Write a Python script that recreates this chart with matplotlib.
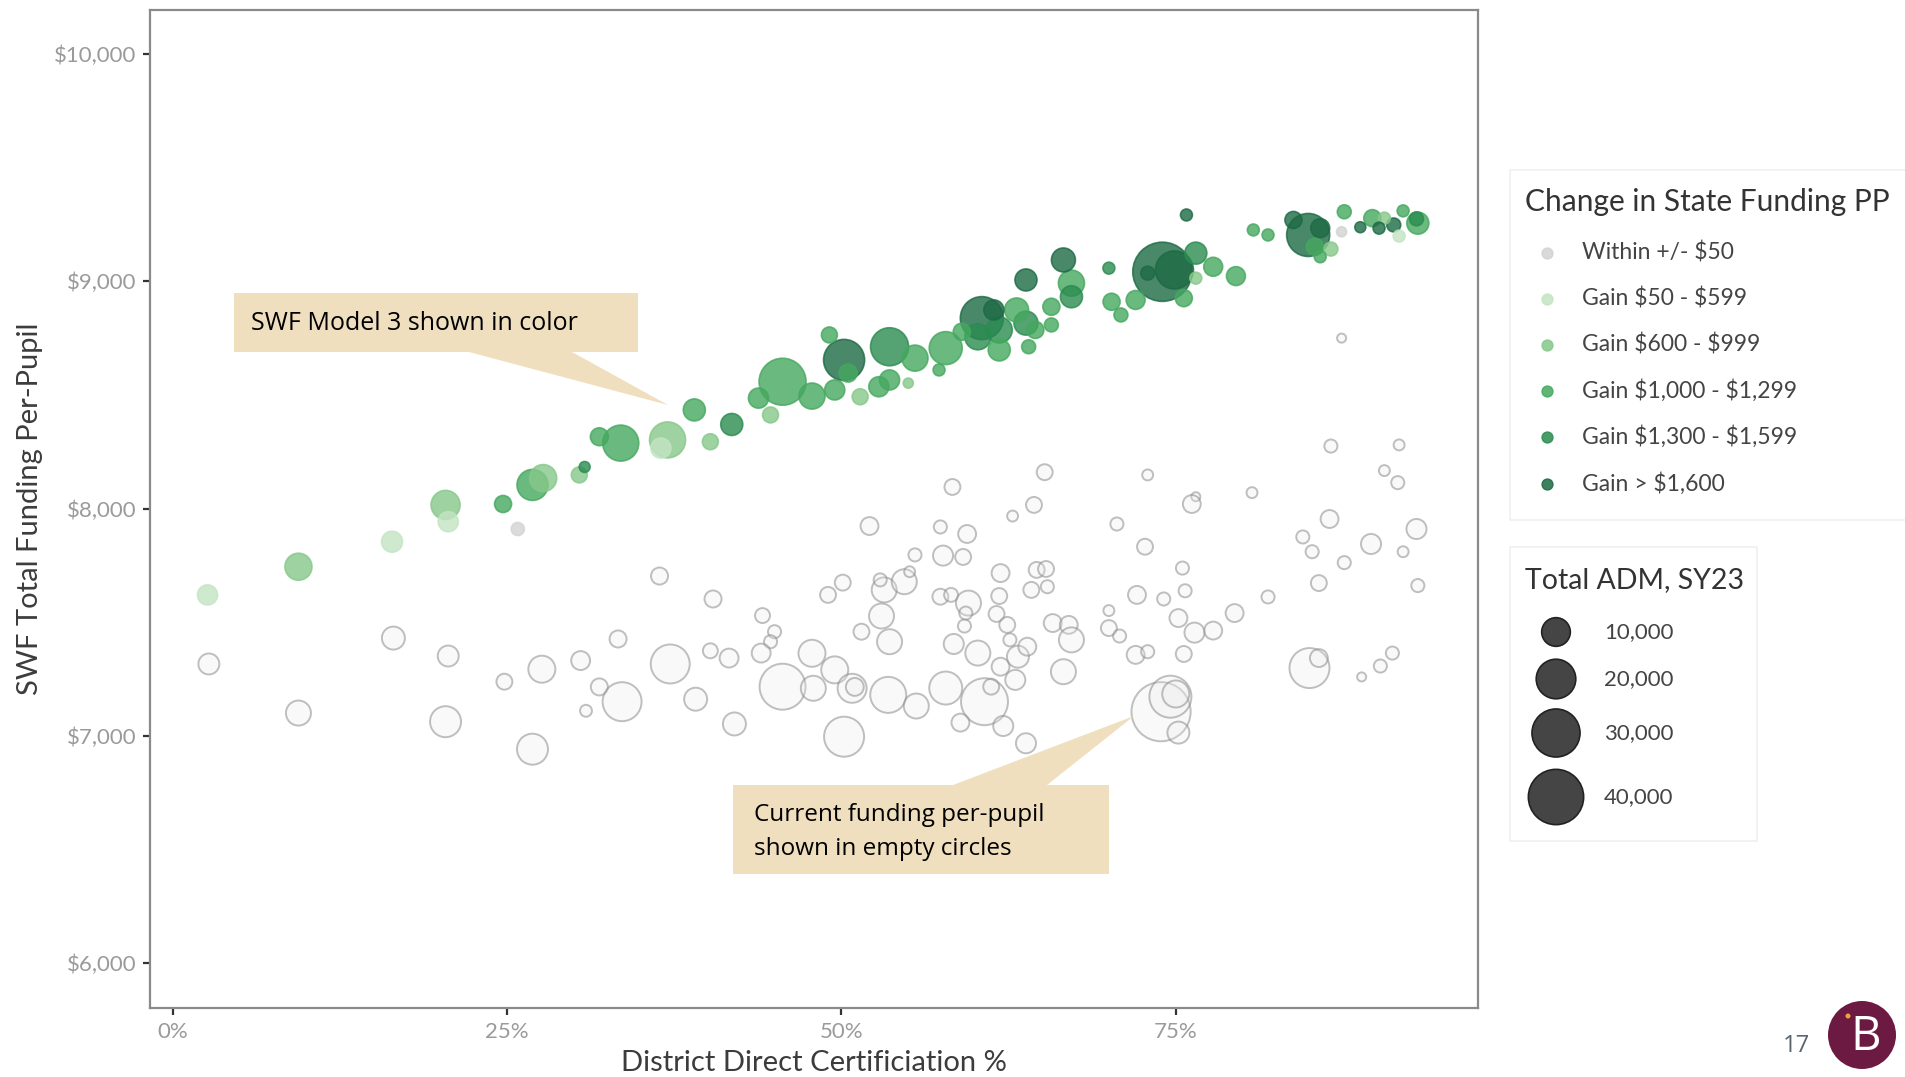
import matplotlib
matplotlib.use("Agg")
import matplotlib.pyplot as plt
from matplotlib.patches import Polygon, Rectangle, Circle
from matplotlib.ticker import FuncFormatter, FixedLocator
import numpy as np

plt.rcParams["font.family"] = ["Lato", "DejaVu Sans"]

# ---------------------------------------------------------------- data
band_labels = ["Within +/- $50", "Gain $50 - $599", "Gain $600 - $999",
               "Gain $1,000 - $1,299", "Gain $1,300 - $1,599", "Gain > $1,600"]
band_colors = ["#d3d3d3", "#c4e4c4", "#86c88a", "#45a85f", "#2a8c50", "#1d6a45"]

# SWF Model 3 per-pupil funding (coloured by change in state funding)
model_pct = [2.6, 9.4, 16.4, 20.6, 20.4, 25.8, 24.7, 26.9, 27.7, 30.4,
             30.8, 31.9, 33.5, 37.0, 36.5, 39.0, 40.2, 41.8, 44.7, 43.8,
             45.6, 47.8, 49.1, 50.2, 49.5, 50.5, 51.4, 52.8, 53.6, 53.6,
             55.0, 55.5, 57.3, 57.8, 59.0, 60.5, 61.4, 60.2, 61.8, 61.8,
             63.1, 63.8, 64.0, 64.5, 65.7, 65.7, 63.8, 66.6, 67.2, 67.2,
             70.0, 70.2, 70.9, 72.0, 74.0, 74.9, 72.9, 75.6, 76.5, 76.5,
             75.8, 77.8, 79.5, 80.8, 81.9, 83.8, 84.9, 85.8, 85.4, 86.6,
             85.8, 87.6, 87.4, 88.8, 89.7, 90.2, 90.6, 91.3, 92.0, 91.7,
             93.1, 93.0]
model_value = [7620, 7744, 7854, 7942, 8016, 7910, 8020, 8104, 8134, 8148,
               8183, 8316, 8288, 8302, 8266, 8434, 8294, 8370, 8412, 8486,
               8558, 8495, 8764, 8654, 8522, 8596, 8492, 8536, 8712, 8566,
               8552, 8662, 8610, 8706, 8778, 8838, 8874, 8756, 8786, 8698,
               8874, 8816, 8712, 8786, 8888, 8808, 9006, 9094, 8992, 8932,
               9058, 8910, 8852, 8918, 9042, 9050, 9036, 8926, 9124, 9014,
               9292, 9064, 9023, 9226, 9204, 9270, 9204, 9234, 9152, 9142,
               9108, 9306, 9218, 9238, 9278, 9234, 9278, 9248, 9310, 9199,
               9256, 9275]
model_adm = [4400, 8800, 4900, 4400, 10300, 1300, 2900, 11900, 8800, 2400,
             600, 3300, 16400, 16400, 4400, 5500, 2400, 5500, 2400, 4400,
             28600, 8100, 2400, 21600, 4400, 3300, 2400, 4400, 18400, 4400,
             350, 8100, 900, 13600, 2900, 23800, 4400, 8100, 8100, 5500,
             6700, 6700, 1600, 2900, 2900, 1600, 5500, 6700, 8100, 5500,
             900, 2900, 1600, 3800, 46000, 18400, 1600, 2900, 5500, 900,
             900, 3800, 3800, 900, 900, 2900, 23800, 3800, 2900, 1600,
             900, 1600, 350, 600, 2900, 900, 900, 1600, 900, 900,
             5500, 1600]
model_band = [1, 2, 1, 1, 2, 0, 3, 3, 2, 2,
              4, 3, 3, 2, 1, 3, 2, 4, 2, 3,
              3, 3, 3, 5, 3, 3, 2, 3, 4, 3,
              2, 3, 3, 3, 3, 5, 5, 4, 4, 3,
              3, 4, 3, 3, 3, 3, 5, 5, 3, 4,
              4, 3, 3, 3, 5, 5, 5, 3, 4, 2,
              5, 3, 3, 3, 3, 5, 5, 5, 3, 2,
              3, 3, 0, 5, 3, 5, 2, 5, 3, 1,
              3, 4]

# Current per-pupil funding (empty circles)
current_pct = [2.7, 9.4, 16.5, 20.6, 20.4, 24.8, 27.6, 26.9, 30.5, 31.9,
               30.9, 33.6, 33.3, 36.4, 37.2, 39.1, 40.2, 41.6, 42.0, 40.4,
               44.1, 45.0, 44.7, 44.0, 45.6, 47.8, 47.9, 49.5, 50.2, 49.0,
               50.1, 51.5, 52.1, 50.8, 51.0, 53.2, 52.9, 54.7, 55.1, 53.0,
               53.5, 53.6, 55.5, 55.6, 57.4, 57.6, 59.1, 59.4, 58.3, 57.4,
               58.2, 59.5, 59.3, 59.2, 58.4, 57.8, 60.2, 60.7, 58.9, 62.1,
               63.8, 61.9, 61.8, 61.6, 62.4, 62.6, 61.9, 61.2, 63.0, 63.2,
               63.9, 62.8, 64.4, 65.2, 64.2, 64.6, 65.3, 65.4, 65.8, 67.0,
               67.2, 66.6, 70.0, 70.0, 70.8, 70.6, 72.7, 72.9, 72.1, 72.0,
               72.9, 74.1, 75.5, 75.7, 75.2, 76.4, 77.8, 75.6, 73.9, 74.6,
               75.0, 75.2, 76.5, 76.2, 79.4, 80.7, 81.9, 85.0, 85.7, 84.5,
               85.2, 86.5, 86.6, 85.7, 87.6, 89.6, 90.6, 91.6, 91.7, 92.0,
               93.0, 93.1, 88.9, 90.3, 91.2, 87.4]
current_value = [7316, 7100, 7430, 7351, 7062, 7238, 7293, 6941, 7331, 7215,
                 7110, 7150, 7426, 7703, 7316, 7161, 7374, 7342, 7052, 7602,
                 7529, 7458, 7414, 7364, 7216, 7363, 7209, 7290, 6996, 7620,
                 7674, 7458, 7923, 7209, 7215, 7642, 7686, 7678, 7722, 7527,
                 7180, 7414, 7796, 7131, 7919, 7793, 7787, 7888, 8095, 7612,
                 7620, 7584, 7540, 7483, 7404, 7210, 7364, 7150, 7058, 7043,
                 6967, 7716, 7615, 7536, 7488, 7422, 7304, 7216, 7246, 7348,
                 7392, 7967, 8016, 8160, 7642, 7730, 7734, 7656, 7496, 7488,
                 7422, 7282, 7551, 7474, 7439, 7932, 7832, 8148, 7620, 7356,
                 7370, 7602, 7738, 7638, 7518, 7454, 7463, 7360, 7106, 7172,
                 7184, 7014, 8052, 8020, 7540, 8070, 7611, 7298, 7342, 7875,
                 7810, 7954, 8275, 7672, 7762, 7844, 8167, 8114, 8280, 7810,
                 7910, 7661, 7259, 7307, 7364, 8750]
current_adm = [4900, 7400, 6100, 4900, 11900, 2400, 8800, 11900, 3800, 2900,
               900, 19400, 2900, 2900, 19400, 6100, 2000, 3800, 6100, 2900,
               2000, 1300, 1300, 3800, 27400, 8800, 7400, 8800, 20500, 2400,
               2400, 2400, 3300, 10300, 3300, 7400, 1300, 7400, 600, 7400,
               16400, 7400, 1300, 7400, 1300, 4400, 2400, 3300, 2400, 2400,
               1600, 7400, 1300, 1300, 4400, 13600, 7400, 28600, 3300, 4400,
               4400, 3300, 2400, 2400, 2400, 1300, 3300, 2400, 4400, 5500,
               3300, 600, 2400, 2400, 2400, 2400, 2400, 1300, 3300, 3300,
               7400, 7400, 600, 2400, 1300, 1300, 2400, 600, 3300, 3300,
               1300, 1300, 1300, 1300, 3300, 4400, 3300, 2400, 46000, 22700,
               8800, 5500, 100, 3300, 3300, 600, 1300, 20500, 3300, 1300,
               1300, 3300, 1300, 2400, 1300, 4400, 600, 1300, 600, 600,
               4400, 1300, 100, 1300, 1300, 100]

y_ticks = [6000, 7000, 8000, 9000, 10000]
x_ticks = [0, 25, 50, 75]
adm_keys = [10000, 20000, 30000, 40000]


def marker_area(adm):
    """Marker area (pt^2) for a district enrolment; area grows with ADM."""
    d_px = np.sqrt(75 + 0.0745 * np.asarray(adm, dtype=float))
    return (d_px * 0.72) ** 2


# ---------------------------------------------------------------- figure
W, H = 1905, 1077
fig = plt.figure(figsize=(W / 100, H / 100), dpi=100)
fig.patch.set_facecolor("white")


def fig_box(l, t, r, b):
    return [l / W, 1 - b / H, (r - l) / W, (b - t) / H]


ax = fig.add_axes(fig_box(150, 10, 1478, 1008))
ax.set_xlim(-1.7, 97.6)
ax.set_ylim(5802, 10194)

# current funding: empty circles
ax.scatter(current_pct, current_value, s=marker_area(current_adm),
           facecolors=(0.92, 0.92, 0.92, 0.25), edgecolors=(0.55, 0.55, 0.55, 0.55),
           linewidths=1.4, zorder=2)

# model funding: filled circles coloured by band, large ones underneath
order = np.argsort(-np.asarray(model_adm))
mp = np.asarray(model_pct)[order]
mv = np.asarray(model_value)[order]
ma = np.asarray(model_adm)[order]
mb = np.asarray(model_band)[order]
cols = [band_colors[b] for b in mb]
ax.scatter(mp, mv, s=marker_area(ma), c=cols, alpha=0.8,
           edgecolors=cols, linewidths=1.2, zorder=3)

ax.yaxis.set_major_locator(FixedLocator(y_ticks))
ax.xaxis.set_major_locator(FixedLocator(x_ticks))
ax.yaxis.set_major_formatter(FuncFormatter(lambda v, p: f"${v:,.0f}"))
ax.xaxis.set_major_formatter(FuncFormatter(lambda v, p: f"{v:.0f}%"))
ax.tick_params(axis="both", length=5, width=1.6, color="#333333",
               labelcolor="#9a9a9a", labelsize=16, pad=5)
for side in ax.spines.values():
    side.set_color("#8a8a8a")
    side.set_linewidth(1.6)

ax.set_xlabel("District Direct Certificiation %", fontsize=21, color="#3c3c3c",
              labelpad=6)
ax.set_ylabel("SWF Total Funding Per-Pupil", fontsize=21, color="#3c3c3c",
              labelpad=8)

# ---------------------------------------------------------------- overlay (pixel coords)
ov = fig.add_axes([0, 0, 1, 1])
ov.set_xlim(0, W)
ov.set_ylim(H, 0)
ov.axis("off")
ov.set_zorder(10)

# legend boxes
ov.add_patch(Rectangle((1510, 170), 400, 350, facecolor="white",
                       edgecolor="#f0f0f0", lw=1.2))
ov.add_patch(Rectangle((1510, 547), 247, 294, facecolor="white",
                       edgecolor="#f0f0f0", lw=1.2))

# colour legend
ov.text(1525, 202, "Change in State Funding PP", fontsize=21.5, color="#333333",
        va="center", ha="left")
leg_y = [253, 299, 345, 391, 437, 484]
for y, lab, col in zip(leg_y, band_labels, band_colors):
    ov.scatter([1547], [y], s=marker_area(600), color=col, alpha=0.85,
               edgecolors=col, linewidths=1)
    ov.text(1582, y, lab, fontsize=16.5, color="#444444", va="center",
            ha="left", parse_math=False)

# size legend
ov.text(1525, 580, "Total ADM, SY23", fontsize=20.5, color="#333333",
        va="center", ha="left")
size_y = [632, 679, 733, 797]
ov.scatter([1556] * 4, size_y, s=marker_area(adm_keys), color="#454545",
           edgecolors="#222222", linewidths=1.2)
for y, k in zip(size_y, adm_keys):
    ov.text(1604, y, f"{k:,}", fontsize=16, color="#444444", va="center",
            ha="left")

# callouts
tan = "#efdfbf"
ov.add_patch(Polygon([(234, 293), (638, 293), (638, 352), (572, 352),
                      (668, 405), (469, 352), (234, 352)],
                     closed=True, facecolor=tan, edgecolor="none"))
ov.text(251, 323, "SWF Model 3 shown in color", fontsize=18, color="black",
        va="center", ha="left", family=["Open Sans", "DejaVu Sans"])

ov.add_patch(Polygon([(733, 785), (953, 785), (1134, 716), (1047, 785),
                      (1109, 785), (1109, 874), (733, 874)],
                     closed=True, facecolor=tan, edgecolor="none"))
ov.text(754, 815, "Current funding per-pupil", fontsize=17.5, color="black",
        va="center", ha="left", family=["Open Sans", "DejaVu Sans"])
ov.text(754, 849, "shown in empty circles", fontsize=17.5, color="black",
        va="center", ha="left", family=["Open Sans", "DejaVu Sans"])

# page number and badge
ov.text(1796, 1046, "17", fontsize=17, color="#5a6470", va="center", ha="center",
        family=["Open Sans", "DejaVu Sans"])
ov.add_patch(Circle((1862, 1035), 34, facecolor="#6d1a42", edgecolor="none"))
ov.text(1866, 1037, "B", fontsize=34, color="white", va="center", ha="center",
        family=["Open Sans", "DejaVu Sans"])
ov.add_patch(Circle((1848, 1016), 2.5, facecolor="#f0a040", edgecolor="none"))

fig.savefig("out.png", dpi=100, facecolor="white")
